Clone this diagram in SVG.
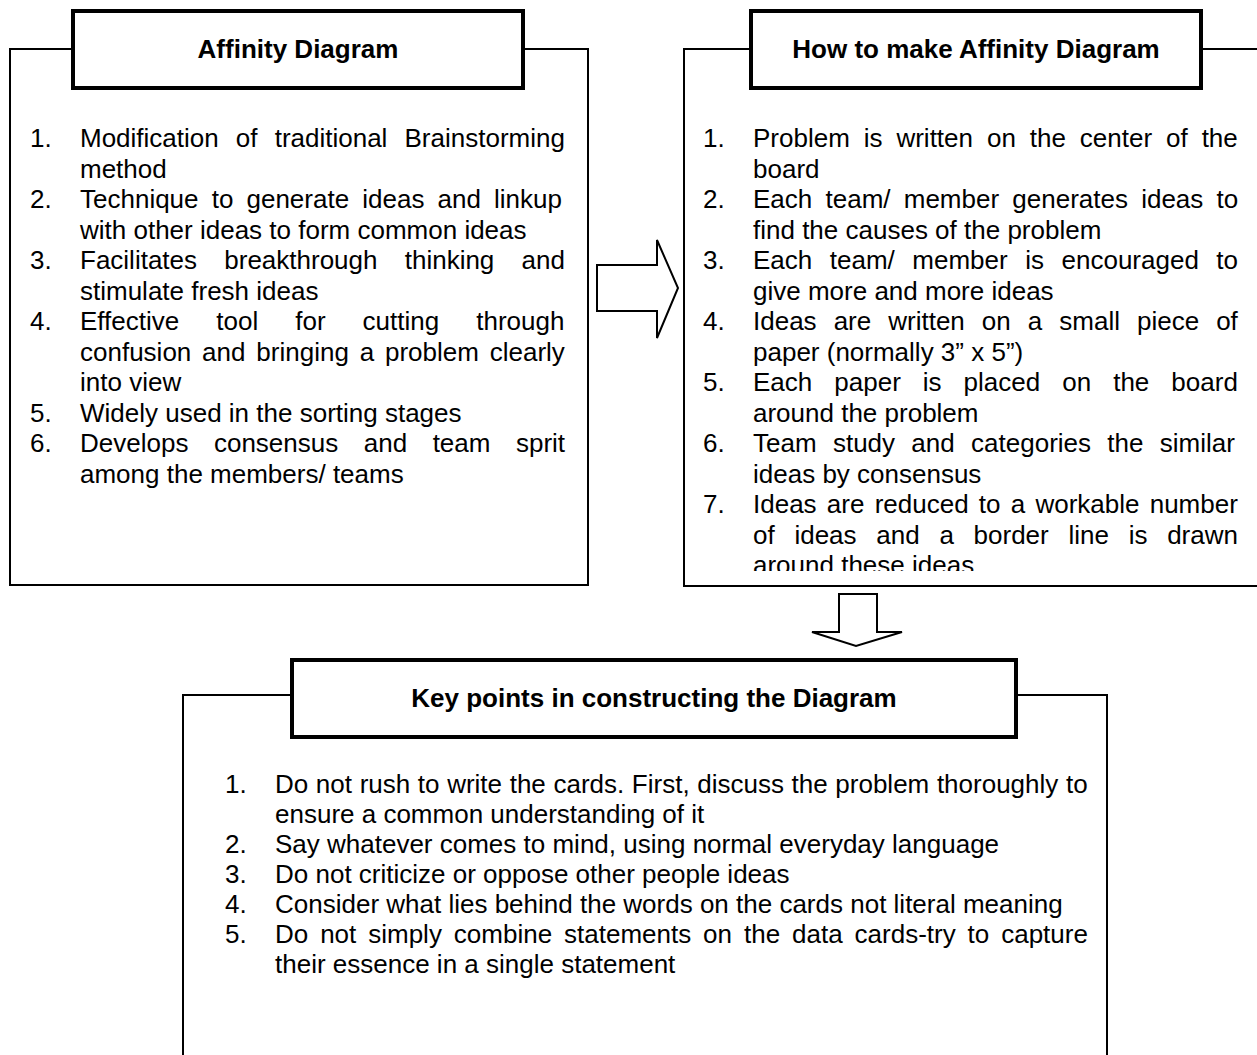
<svg xmlns="http://www.w3.org/2000/svg" width="1257" height="1055" viewBox="0 0 1257 1055">
  <style>
    .frame { fill: none; stroke: #000; stroke-width: 2; }
    .titlebox { fill: #fff; stroke: #000; stroke-width: 4; }
    .title { font-family: "Liberation Sans", Arial, sans-serif; font-weight: bold; font-size: 26px; text-anchor: middle; fill: #000; }
    .body { font-family: "Liberation Sans", Arial, sans-serif; font-size: 26px; fill: #000; }
    .arrow { fill: #fff; stroke: #000; stroke-width: 2; stroke-linejoin: miter; }
  </style>
  <defs>
    <clipPath id="clip-how">
      <rect x="684" y="90" width="580" height="481"/>
    </clipPath>
  </defs>
  <rect width="1257" height="1055" fill="#fff"/>

  <!-- Left card: Affinity Diagram -->
  <g id="affinity-diagram">
    <rect class="frame" x="10" y="49" width="578" height="536"/>
    <rect class="titlebox" x="73" y="11" width="450" height="77"/>
    <text class="title" x="298" y="58">Affinity Diagram</text>
    <g class="body">
      <text x="30" y="147">1.</text>
      <text x="80" y="147" style="word-spacing:9.9px">Modification of traditional Brainstorming</text>
      <text x="80" y="177.5">method</text>
      <text x="30" y="208">2.</text>
      <text x="80" y="208" style="word-spacing:5.9px">Technique to generate ideas and linkup</text>
      <text x="80" y="238.5">with other ideas to form common ideas</text>
      <text x="30" y="269">3.</text>
      <text x="80" y="269" style="word-spacing:20px">Facilitates breakthrough thinking and</text>
      <text x="80" y="299.5">stimulate fresh ideas</text>
      <text x="30" y="330">4.</text>
      <text x="80" y="330" style="word-spacing:29.8px">Effective tool for cutting through</text>
      <text x="80" y="360.5" style="word-spacing:3.6px">confusion and bringing a problem clearly</text>
      <text x="80" y="391">into view</text>
      <text x="30" y="421.5">5.</text>
      <text x="80" y="421.5">Widely used in the sorting stages</text>
      <text x="30" y="452">6.</text>
      <text x="80" y="452" style="word-spacing:18.3px">Develops consensus and team sprit</text>
      <text x="80" y="482.5">among the members/ teams</text>
    </g>
  </g>

  <!-- Right card: How to make Affinity Diagram -->
  <g id="how-to-make">
    <rect class="frame" x="684" y="49" width="600" height="537"/>
    <rect class="titlebox" x="751" y="11" width="450" height="77"/>
    <text class="title" x="976" y="58">How to make Affinity Diagram</text>
    <g class="body" clip-path="url(#clip-how)">
      <text x="703" y="147">1.</text>
      <text x="753" y="147" style="word-spacing:6.7px">Problem is written on the center of the</text>
      <text x="753" y="177.5">board</text>
      <text x="703" y="208">2.</text>
      <text x="753" y="208" style="word-spacing:6px">Each team/ member generates ideas to</text>
      <text x="753" y="238.5">find the causes of the problem</text>
      <text x="703" y="269">3.</text>
      <text x="753" y="269" style="word-spacing:10.3px">Each team/ member is encouraged to</text>
      <text x="753" y="299.5">give more and more ideas</text>
      <text x="703" y="330">4.</text>
      <text x="753" y="330" style="word-spacing:9.8px">Ideas are written on a small piece of</text>
      <text x="753" y="360.5">paper (normally 3” x 5”)</text>
      <text x="703" y="391">5.</text>
      <text x="753" y="391" style="word-spacing:14.8px">Each paper is placed on the board</text>
      <text x="753" y="421.5">around the problem</text>
      <text x="703" y="452">6.</text>
      <text x="753" y="452" style="word-spacing:9.1px">Team study and categories the similar</text>
      <text x="753" y="482.5">ideas by consensus</text>
      <text x="703" y="513">7.</text>
      <text x="753" y="513" style="word-spacing:3px">Ideas are reduced to a workable number</text>
      <text x="753" y="543.5" style="word-spacing:12.5px">of ideas and a border line is drawn</text>
      <text x="753" y="574">around these ideas</text>
    </g>
  </g>

  <!-- Bottom card: Key points -->
  <g id="key-points">
    <polyline class="frame" points="183,1060 183,695 1107,695 1107,1060"/>
    <rect class="titlebox" x="292" y="660" width="724" height="77"/>
    <text class="title" x="654" y="707">Key points in constructing the Diagram</text>
    <g class="body">
      <text x="225" y="793">1.</text>
      <text x="275" y="793" style="word-spacing:0.4px">Do not rush to write the cards. First, discuss the problem thoroughly to</text>
      <text x="275" y="823">ensure a common understanding of it</text>
      <text x="225" y="853">2.</text>
      <text x="275" y="853">Say whatever comes to mind, using normal everyday language</text>
      <text x="225" y="883">3.</text>
      <text x="275" y="883">Do not criticize or oppose other people ideas</text>
      <text x="225" y="913">4.</text>
      <text x="275" y="913">Consider what lies behind the words on the cards not literal meaning</text>
      <text x="225" y="943">5.</text>
      <text x="275" y="943" style="word-spacing:4.7px">Do not simply combine statements on the data cards-try to capture</text>
      <text x="275" y="973">their essence in a single statement</text>
    </g>
  </g>

  <!-- Block arrows between cards -->
  <g id="connectors">
    <polygon class="arrow" points="597,265 657,265 657,240 678,288 657,338 657,311 597,311"/>
    <polygon class="arrow" points="839,594 877,594 877,632 902,632 856,646 812,632 839,632"/>
  </g>
</svg>
